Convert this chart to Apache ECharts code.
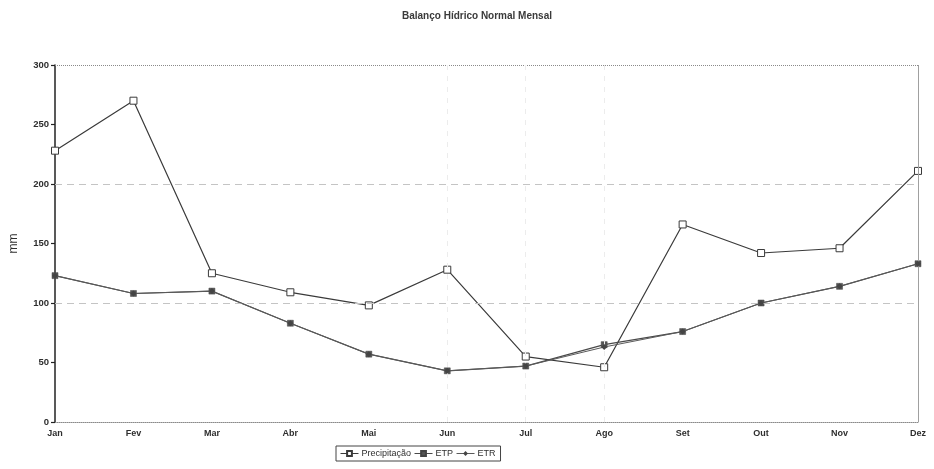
<!DOCTYPE html>
<html>
<head>
<meta charset="utf-8">
<script src="https://cdn.jsdelivr.net/npm/echarts@6/dist/echarts.min.js"></script>
<style>
  html, body { margin: 0; padding: 0; background: #ffffff; }
  #chart { width: 934px; height: 469px; }
</style>
</head>
<body>
<div id="chart"></div>
<script>
// Monthly water balance (mm)
const months = ['Jan', 'Fev', 'Mar', 'Abr', 'Mai', 'Jun', 'Jul', 'Ago', 'Set', 'Out', 'Nov', 'Dez'];
const precipitacao = [228, 270, 125, 109, 98, 128, 55, 46, 166, 142, 146, 211];
const etp = [123, 108, 110, 83, 57, 43, 47, 65, 76, 100, 114, 133];
const etr = [123, 108, 110, 83, 57, 43, 47, 63, 76, 100, 114, 133];
const yTicks = [0, 50, 100, 150, 200, 250, 300];
const dashedLevels = [100, 200];
const faintMonths = ['Jun', 'Jul', 'Ago'];

const fontFamily = 'Liberation Sans, Arial, sans-serif';
const ink = '#2e2e2e';

const chart = echarts.init(document.getElementById('chart'), null, { renderer: 'canvas' });

const guideLines = [
  // dashed horizontal reference levels
  ...dashedLevels.map(v => ({
    yAxis: v,
    lineStyle: { type: [7, 5], color: '#c4c4c4', width: 1 }
  })),
  // dotted top edge of the plot
  { yAxis: yTicks[yTicks.length - 1], lineStyle: { type: [1, 1], color: '#8a8a8a', width: 1 } },
  // faint vertical guides
  ...faintMonths.map(m => ({
    xAxis: m,
    lineStyle: { type: [5, 6], color: '#ececec', width: 1 }
  })),
  // right edge of the plot
  { xAxis: months[months.length - 1], lineStyle: { type: 'solid', color: '#a0a0a0', width: 1 } }
];

chart.setOption({
  animation: false,
  backgroundColor: '#ffffff',
  title: {
    text: 'Balanço Hídrico Normal Mensal',
    left: 472,
    textAlign: 'center',
    top: 6,
    textStyle: { fontFamily, fontSize: 10, fontWeight: 'bold', color: '#3a3a3a' }
  },
  legend: {
    left: 336,
    top: 446,
    orient: 'horizontal',
    itemWidth: 18,
    itemHeight: 6,
    itemGap: 3,
    padding: [3, 5, 3, 4],
    borderColor: '#444',
    borderWidth: 1,
    lineStyle: { width: 1 },
    textStyle: { fontFamily, fontSize: 9, color: ink, padding: [0, 0, 0, -2] },
    data: ['Precipitação', 'ETP', 'ETR']
  },
  grid: { left: 52, right: 16, top: 65, bottom: 47 },
  xAxis: {
    type: 'category',
    data: months,
    boundaryGap: false,
    axisLine: { show: true, lineStyle: { color: '#8a8a8a', type: [1, 1], width: 1 } },
    axisTick: { show: false },
    axisLabel: { fontFamily, fontSize: 9, fontWeight: 'bold', color: ink, margin: 7 },
    splitLine: { show: false }
  },
  yAxis: {
    type: 'value',
    min: yTicks[0],
    max: yTicks[yTicks.length - 1],
    interval: 50,
    name: 'mm',
    nameLocation: 'middle',
    nameGap: 35,
    nameRotate: 90,
    nameTextStyle: { fontFamily, fontSize: 12, color: ink },
    axisLine: { show: true, lineStyle: { color: '#222', width: 1.5 } },
    axisTick: { show: true, inside: false, length: 4, lineStyle: { color: '#222', width: 1.2 } },
    axisLabel: { fontFamily, fontSize: 9.5, fontWeight: 'bold', color: ink, margin: 6 },
    splitLine: { show: false }
  },
  series: [
    {
      name: 'Precipitação',
      type: 'line',
      data: precipitacao,
      symbol: 'rect',
      symbolSize: 7,
      showAllSymbol: true,
      z: 3,
      lineStyle: { color: '#3a3a3a', width: 1.2 },
      itemStyle: { color: '#ffffff', borderColor: '#3a3a3a', borderWidth: 1 },
      markLine: {
        silent: true,
        symbol: ['none', 'none'],
        label: { show: false },
        animation: false,
        data: guideLines
      }
    },
    {
      name: 'ETP',
      type: 'line',
      data: etp,
      symbol: 'rect',
      symbolSize: 6,
      showAllSymbol: true,
      z: 4,
      lineStyle: { color: '#4a4a4a', width: 1.2 },
      itemStyle: { color: '#555555', borderColor: '#444444', borderWidth: 0.5 }
    },
    {
      name: 'ETR',
      type: 'line',
      data: etr,
      symbol: 'diamond',
      symbolSize: 6,
      showAllSymbol: true,
      z: 5,
      lineStyle: { color: '#5a5a5a', width: 1 },
      itemStyle: { color: '#444444' }
    }
  ]
});
</script>
</body>
</html>
